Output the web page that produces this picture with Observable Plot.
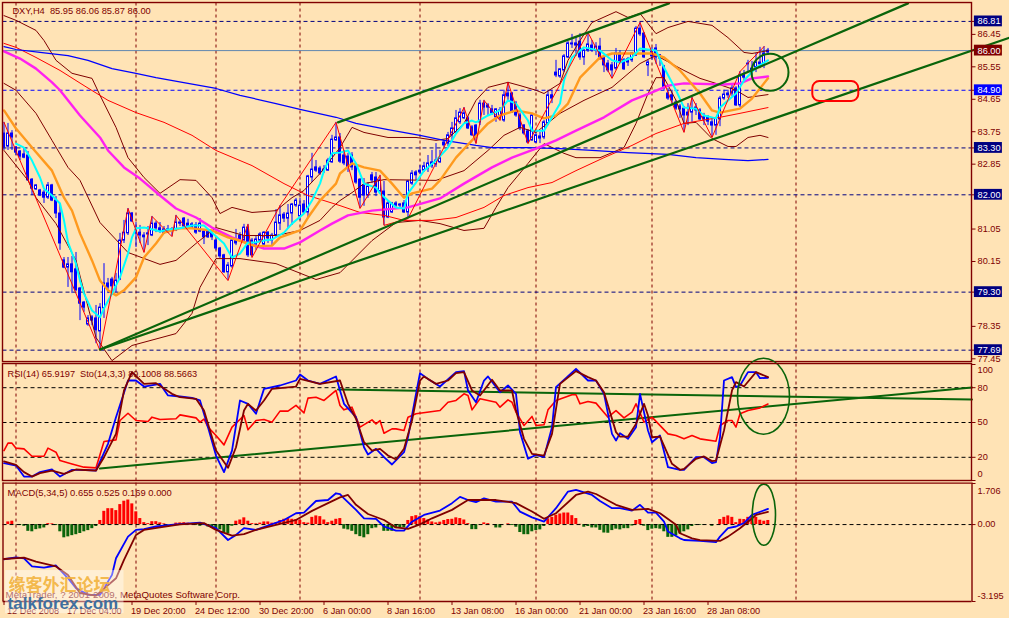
<!DOCTYPE html>
<html>
<head>
<meta charset="utf-8">
<script src="https://cdn.jsdelivr.net/npm/d3@7"></script>
<script src="https://cdn.jsdelivr.net/npm/@observablehq/plot@0.6"></script>
<style>
html,body{margin:0;padding:0;background:#FFE3B5;overflow:hidden;width:1009px;height:618px}
svg{display:block;overflow:visible}
</style>
</head>
<body>
<div id="chart"></div>
<script>
// ---------- candles: one value per H4 bar ----------
const opens=[83.70,83.34,83.70,83.31,83.20,83.12,83.09,82.42,82.15,82.12,82.06,81.92,82.26,81.84,81.48,80.18,79.98,80.07,79.93,79.40,79.01,78.40,78.60,78.57,78.21,78.85,79.54,79.65,79.46,79.65,80.73,80.93,81.48,81.01,80.95,80.87,80.93,80.87,81.20,81.07,81.04,81.04,81.04,81.01,81.23,81.34,81.20,81.09,81.15,80.98,80.98,80.98,80.93,80.73,80.51,80.32,79.85,80.01,80.73,80.87,80.73,81.09,80.73,80.62,80.73,80.62,80.95,80.73,80.87,81.20,81.45,81.34,81.48,81.70,81.40,81.73,81.51,82.48,82.76,82.73,82.70,82.67,82.90,83.51,83.59,83.09,83.06,83.09,82.79,82.42,82.26,81.98,82.54,82.48,82.09,82.09,81.37,81.51,81.76,81.73,81.76,81.51,82.31,82.62,82.67,82.67,82.73,82.79,82.84,82.90,83.45,83.42,83.65,83.73,84.01,84.12,84.12,83.87,83.92,84.01,84.53,84.48,84.37,84.15,84.12,84.06,84.81,84.81,84.53,84.20,83.92,83.76,83.51,83.45,83.56,83.59,83.98,84.76,85.39,85.28,85.45,85.81,86.17,86.14,86.25,85.81,86.00,86.14,86.00,86.11,85.81,85.64,85.59,85.50,85.92,85.73,85.76,85.73,85.86,86.61,86.47,85.59,85.98,86.06,85.87,85.56,84.81,84.76,84.56,84.45,84.39,84.28,84.28,84.34,84.34,84.15,84.15,84.01,83.92,84.09,84.67,84.76,84.81,84.95,84.48,85.34,85.62,85.50,85.53,85.62,85.64,85.95];
const highs=[84.01,83.98,83.78,83.34,83.23,83.28,83.20,82.45,82.28,82.15,82.12,82.34,82.29,81.95,81.76,80.26,80.26,80.29,80.40,79.43,79.04,78.65,78.65,78.93,78.98,80.09,79.68,79.71,79.82,80.93,81.29,81.62,81.51,81.23,81.15,80.95,81.12,81.40,81.26,81.23,81.12,81.15,81.09,81.43,81.29,81.37,81.32,81.23,81.23,81.34,81.01,81.01,80.95,80.76,80.54,80.35,80.12,80.79,81.04,80.95,81.18,81.18,80.79,80.84,80.95,80.98,80.98,80.93,81.59,81.70,81.51,81.73,81.76,81.90,81.90,81.84,82.54,83.15,82.95,82.79,82.81,83.01,83.65,84.01,83.70,83.23,83.15,83.17,82.84,82.45,82.45,82.34,82.62,82.62,82.54,82.37,81.81,81.79,81.81,81.76,81.84,82.40,82.67,82.67,82.81,82.90,83.09,83.23,83.42,83.23,83.51,83.73,84.01,84.34,84.39,84.42,84.17,83.92,83.95,84.62,84.62,84.53,84.48,84.39,84.42,84.90,85.12,84.84,84.59,84.26,83.95,83.81,84.26,83.78,83.73,84.06,84.90,84.90,85.73,85.50,85.89,86.25,86.45,86.39,86.47,86.03,86.50,86.28,86.22,86.34,85.84,85.73,85.67,86.06,86.00,85.78,85.81,85.95,86.67,86.78,86.50,85.73,86.08,86.17,85.89,85.59,84.95,84.90,84.62,84.51,84.45,84.53,84.70,84.53,84.39,84.26,84.20,84.12,84.15,84.73,84.90,84.90,85.03,85.00,85.42,85.45,85.73,85.70,85.92,86.09,86.11,86.06];
const lows=[83.23,83.23,83.23,83.09,82.95,83.00,82.37,81.98,82.12,81.95,81.76,81.87,81.81,81.34,80.46,79.95,79.43,79.26,79.32,78.51,78.74,78.35,78.37,77.87,77.68,78.57,79.26,79.21,79.29,79.62,80.65,80.87,81.23,80.54,80.65,80.40,80.59,80.84,80.95,80.93,80.90,80.93,80.84,80.98,81.12,81.09,81.07,81.04,80.90,80.95,80.62,80.79,80.73,80.46,80.23,79.82,79.62,79.96,80.59,80.68,80.65,80.26,80.26,80.46,80.68,80.57,80.65,80.57,80.82,81.01,81.23,81.07,81.15,81.65,81.29,81.48,81.37,82.34,82.62,82.54,82.59,82.65,82.87,83.48,82.87,82.81,82.62,82.67,82.29,81.62,81.68,81.90,82.31,81.95,82.06,81.15,81.34,81.48,81.65,81.62,81.48,81.34,82.26,82.40,82.56,82.62,82.62,82.73,82.76,82.87,83.31,83.34,83.51,83.70,83.95,84.09,83.81,83.62,83.42,83.92,84.20,84.20,84.20,84.01,84.06,84.01,84.62,84.26,84.15,83.78,83.65,83.42,83.48,83.42,83.42,83.53,83.92,84.53,85.25,85.23,85.39,85.78,86.06,85.84,85.73,85.59,85.95,85.95,85.86,85.73,85.39,85.39,85.23,85.45,85.67,85.45,85.56,85.67,85.84,86.39,85.78,85.28,85.73,85.62,85.56,84.90,84.62,84.48,84.34,84.12,83.73,83.92,84.01,84.20,84.06,83.92,83.92,83.59,83.65,83.89,84.62,84.67,84.73,84.45,84.42,85.17,85.39,85.23,85.39,85.50,85.50,85.87];
const closes=[83.31,83.70,83.59,83.17,83.06,83.03,82.40,82.17,82.26,81.98,81.92,82.26,81.84,81.48,80.65,79.98,80.07,79.85,79.35,78.98,78.87,78.57,78.51,78.24,78.87,79.54,79.43,79.46,79.62,80.73,80.95,81.48,81.26,80.93,80.87,80.82,80.90,81.20,81.07,80.98,80.95,80.98,81.01,81.23,81.20,81.12,81.09,81.18,80.95,81.20,80.82,80.82,80.82,80.51,80.29,79.85,80.04,80.73,80.65,80.73,81.09,80.32,80.32,80.76,80.90,80.95,80.79,80.87,81.23,81.43,81.34,81.48,81.73,81.84,81.70,81.51,82.51,82.70,82.67,82.59,82.65,82.95,83.53,83.59,82.92,82.87,82.76,82.76,82.34,81.92,81.98,82.23,82.40,82.06,82.40,81.37,81.76,81.76,81.70,81.70,81.51,82.37,82.59,82.54,82.62,82.79,82.87,82.90,82.95,83.01,83.37,83.65,83.84,84.12,84.28,84.26,83.84,83.65,83.59,84.53,84.42,84.42,84.26,84.37,84.34,84.76,84.73,84.28,84.20,83.84,83.70,83.45,84.20,83.65,83.62,84.01,84.76,84.67,85.31,85.48,85.84,86.20,86.20,86.20,85.81,86.00,86.17,86.00,86.11,85.81,85.59,85.45,85.45,85.92,85.70,85.48,85.67,85.92,86.61,86.45,85.81,85.67,85.84,85.81,85.78,84.95,84.67,84.62,84.39,84.37,84.20,84.20,84.39,84.42,84.09,84.09,84.03,83.92,84.12,84.67,84.78,84.81,84.95,84.48,85.31,85.25,85.64,85.45,85.67,85.67,85.92,86.00];

// ---------- price overlays: [bar, price] ----------
const cyanMA=[[3,83.42],[5,83.31],[7,82.95],[9,82.48],[10,82.17],[12,81.98],[14,81.76],[15,81.29],[16,80.68],[18,80.09],[19,79.62],[20,79.26],[22,78.79],[24,78.60],[25,78.85],[27,79.26],[29,79.71],[31,80.37],[32,80.82],[33,81.07],[35,81.09],[36,81.07],[39,80.98],[41,81.04],[44,81.07],[47,81.15],[50,81.15],[52,80.95],[55,80.65],[57,80.26],[59,80.37],[61,80.68],[63,80.68],[65,80.73],[67,80.76],[70,80.95],[72,81.20],[75,81.48],[77,81.84],[79,82.31],[80,82.67],[82,83.15],[84,83.17],[86,83.23],[88,82.87],[90,82.31],[93,82.20],[94,82.04],[96,81.84],[98,81.65],[100,81.62],[101,82.04],[103,82.34],[105,82.67],[108,82.95],[111,83.31],[113,83.70],[115,83.98],[117,84.06],[118,84.01],[121,84.20],[124,84.34],[126,84.62],[128,84.53],[131,84.06],[132,83.78],[135,83.78],[137,84.15],[139,84.53],[140,85.17],[142,85.81],[145,86.09],[149,86.00],[152,85.73],[154,85.67],[157,85.81],[159,86.06],[163,86.00],[165,85.53],[168,84.90],[170,84.42],[173,84.39],[175,84.20],[178,84.12],[179,84.42],[183,84.81],[185,85.17],[188,85.53],[191,85.73]];
const orangeMA=[[0,84.34],[3,83.84],[7,83.31],[12,82.67],[15,81.92],[17,81.56],[19,80.93],[22,80.18],[24,79.62],[26,79.35],[28,79.21],[30,79.35],[33,79.71],[35,80.26],[38,80.65],[40,80.95],[44,81.07],[47,81.07],[52,81.01],[56,80.82],[58,80.76],[63,80.57],[67,80.59],[69,80.82],[74,81.01],[76,81.37],[79,81.84],[83,82.31],[84,82.59],[87,82.87],[90,82.76],[94,82.67],[97,82.31],[100,81.92],[102,82.04],[107,82.17],[109,82.40],[113,83.03],[117,83.51],[121,83.98],[124,84.20],[128,84.34],[132,84.26],[135,84.12],[138,84.20],[141,84.53],[144,85.25],[149,85.81],[152,85.92],[162,85.92],[165,85.81],[169,85.45],[174,84.81],[177,84.34],[179,84.28],[184,84.39],[187,84.67],[191,85.23]];
const magentaMA=[[0,85.98],[4,85.78],[8,85.50],[12,85.12],[14,84.90],[19,84.20],[24,83.59],[26,83.23],[30,82.76],[34,82.45],[39,81.98],[43,81.62],[48,81.37],[52,81.09],[57,80.82],[61,80.65],[65,80.51],[70,80.51],[74,80.68],[79,81.01],[82,81.20],[86,81.43],[92,81.56],[101,81.65],[109,81.90],[115,82.31],[122,82.76],[127,83.03],[133,83.28],[138,83.51],[143,83.78],[150,84.15],[157,84.62],[162,84.84],[166,85.03],[170,85.09],[180,85.06],[184,85.09],[187,85.23],[191,85.28]];
const blueMA=[[0,86.11],[3,86.03],[9,85.95],[16,85.86],[21,85.73],[27,85.50],[33,85.37],[38,85.25],[46,85.09],[53,84.95],[59,84.76],[68,84.53],[74,84.37],[83,84.15],[88,83.98],[96,83.81],[104,83.65],[110,83.51],[118,83.37],[122,83.31],[131,83.31],[139,83.28],[147,83.23],[156,83.17],[166,83.12],[173,83.03],[180,82.98],[186,82.95],[191,82.98]];
const redMA=[[0,86.20],[3,86.09],[8,85.81],[14,85.45],[20,85.03],[26,84.62],[33,84.28],[40,84.01],[47,83.65],[53,83.23],[62,82.81],[70,82.31],[76,81.98],[84,81.70],[89,81.51],[95,81.43],[100,81.29],[107,81.29],[113,81.37],[120,81.65],[125,81.98],[131,82.20],[137,82.34],[143,82.67],[150,83.03],[157,83.37],[163,83.70],[170,83.98],[179,84.15],[184,84.26],[191,84.42]];
const zigzag=[[0,84.01],[24,77.68],[31,81.62],[35,80.40],[37,81.40],[42,80.84],[43,81.43],[56,79.62],[61,81.18],[62,80.26],[69,81.70],[83,84.01],[89,81.62],[94,82.54],[95,81.15],[101,81.34],[115,84.42],[118,83.42],[120,84.62],[124,84.06],[126,85.12],[131,83.42],[146,86.50],[152,85.23],[159,86.78],[170,83.73],[172,84.70],[177,83.59],[184,85.42],[190,86.11]];
const bandUpper=[[0,86.97],[3,86.84],[8,86.56],[10,86.28],[13,85.73],[17,85.37],[22,85.23],[24,84.76],[28,83.87],[31,83.03],[35,82.48],[39,82.04],[44,82.42],[48,82.40],[52,81.92],[54,81.48],[57,81.65],[62,81.51],[68,81.56],[72,81.92],[75,82.12],[79,82.59],[84,83.31],[87,83.87],[90,83.73],[96,83.59],[103,83.59],[108,83.51],[111,83.56],[115,83.98],[118,84.62],[121,84.98],[126,85.12],[129,85.03],[133,84.90],[135,84.81],[139,85.09],[141,85.73],[144,86.28],[147,86.78],[153,87.08],[156,86.92],[159,87.03],[161,86.75],[163,86.47],[166,86.64],[171,86.81],[177,86.70],[181,86.36],[185,85.95],[187,85.92],[191,86.00]];
const bandMiddle=[[0,85.09],[3,84.90],[8,84.26],[12,83.51],[16,82.76],[19,82.40],[24,81.23],[31,80.40],[39,80.07],[43,80.18],[48,80.65],[53,81.09],[60,80.87],[68,80.87],[74,81.01],[79,81.29],[82,81.65],[84,81.84],[87,82.06],[90,82.31],[95,82.42],[108,82.40],[115,82.67],[121,83.23],[125,83.65],[129,83.87],[133,83.73],[139,84.26],[145,84.62],[152,84.98],[159,85.64],[163,85.87],[170,85.45],[174,85.23],[178,85.09],[183,84.90],[186,84.70],[191,84.78]];
const bandLower=[[0,83.23],[6,82.40],[8,81.92],[13,81.20],[18,80.18],[23,78.04],[27,77.40],[32,77.82],[43,78.15],[47,78.71],[49,79.43],[53,80.23],[59,80.23],[68,80.09],[78,79.65],[84,79.84],[92,80.73],[98,81.23],[104,81.29],[109,81.20],[115,81.01],[120,81.07],[123,81.65],[126,82.20],[131,82.87],[135,83.42],[140,83.15],[143,83.03],[149,83.03],[155,83.31],[158,83.98],[161,84.81],[163,85.25],[165,85.25],[168,84.62],[170,83.98],[173,84.01],[177,83.56],[181,83.34],[183,83.34],[186,83.59],[189,83.65],[191,83.59]];
const priceTrend1=[[83.5,84.01],[166.25,87.31]];
const priceTrend2=[[24,77.71],[226,87.31]];
const priceTrend3=[[24,77.71],[251.4,86.36]];

// ---------- RSI / Stochastic: [bar, value] ----------
const stoMain=[[0,14.9],[3,12.9],[5,3.4],[7,3.4],[9,7.2],[12,9.5],[14,3.4],[17,9.2],[19,9.2],[23,8.6],[26,31.6],[28,54.6],[31,86.2],[33,86.2],[35,81],[39,83.3],[41,73.3],[44,72.4],[47,71.3],[49,69],[51,46],[53,21.5],[55,7.2],[57,25.8],[59,69],[61,66.1],[63,57.5],[65,79],[69,81.9],[73,86.2],[74,91.4],[76,86.2],[79,83.3],[83,89.7],[84,77.6],[85,66.1],[88,54.6],[90,28.7],[91,22.4],[93,27.3],[95,20.1],[97,13.8],[100,24.4],[101,37.3],[103,74.7],[104,92.5],[106,87.6],[109,81],[113,93.4],[115,94.3],[116,77.6],[118,67.5],[120,86.2],[121,89.7],[124,76.1],[126,81.9],[128,74.7],[129,41.7],[131,18.7],[133,22.1],[135,20.1],[137,46],[138,80.5],[143,96.3],[146,86.2],[148,86.2],[150,74.7],[152,40.2],[153,34.5],[154,40.8],[156,35.9],[158,46],[159,74.7],[161,43.1],[162,33],[164,38.8],[166,11.5],[169,9.2],[170,9.2],[173,20.1],[175,20.1],[177,15],[178,15.8],[179,37.4],[180,86.2],[182,89.1],[183,80.5],[184,81.9],[186,93.4],[188,93.4],[189,88.2],[191,88.57]];
const stoSignal=[[0,16.4],[3,13.5],[5,7.2],[7,3.4],[9,6.3],[12,8.6],[15,5.7],[18,9.5],[23,8.6],[25,20.1],[28,40.2],[30,77.6],[32,93.4],[35,83.3],[38,83.9],[42,74.7],[44,71.8],[48,70.4],[50,60.3],[53,25.8],[56,10.9],[58,28.7],[60,60.3],[61,66.1],[63,60.3],[65,69],[67,79],[73,81],[74,87.6],[79,83.3],[84,86.2],[86,66.1],[88,53.2],[90,33],[92,25.8],[94,27.3],[96,21.5],[98,18.1],[100,27.3],[102,51.7],[104,86.2],[105,89.7],[108,83.3],[111,86.2],[113,92.5],[115,93.4],[117,77.6],[119,73.3],[122,86.8],[124,77.6],[127,77.6],[128,60.3],[130,35.9],[132,23],[135,21.5],[137,40.2],[139,83.3],[143,94.3],[146,89.1],[148,86.2],[150,76.1],[153,41.7],[154,37.9],[156,37.9],[158,48.8],[160,66.1],[161,56],[162,37.3],[164,37.9],[167,14.4],[169,9.2],[170,10],[173,18.7],[175,20.7],[177,16.7],[178,17.2],[180,43.1],[182,77.6],[183,84.8],[185,81],[188,93.4],[191,89.1]];
const rsiLine=[[0,25.8],[1,32.2],[2,32.2],[3,27.9],[5,27.3],[7,20.9],[10,20.9],[11,27.9],[13,24.4],[14,17.2],[17,14.3],[20,11.5],[23,10.9],[25,33.6],[28,35],[29,51.7],[31,58],[33,51.7],[36,50.9],[37,54.6],[39,52.6],[43,53.2],[44,56.6],[48,54],[49,50.3],[50,53],[51,46],[53,38.8],[55,30.7],[57,46],[60,56],[61,43.7],[63,51.7],[65,52.6],[67,50.3],[69,59.8],[71,59.8],[73,64.7],[75,58.3],[76,71],[78,71.8],[80,69],[83,77.6],[84,64.7],[85,60.9],[87,63.2],[89,46],[92,52.3],[93,48.8],[94,51.7],[95,40.8],[97,44.5],[98,44.5],[100,43.1],[101,54.6],[103,57.5],[109,60.3],[111,67.5],[113,69],[115,74.7],[116,73.3],[117,60.9],[119,70.4],[123,67.5],[124,63.2],[126,69.5],[127,67.5],[128,58.9],[130,47.4],[132,55.2],[133,47.4],[135,48],[136,60.9],[138,69],[142,73.9],[143,73.9],[144,66.1],[146,68.1],[148,66.7],[151,54.6],[153,60.3],[155,54],[157,58.9],[158,66.1],[160,50.3],[162,54.6],[166,40.2],[168,38.8],[170,35.9],[172,38.8],[174,35.9],[178,33.9],[179,47.4],[181,51.7],[182,51.7],[183,46],[184,57.5],[186,60.3],[189,62.6],[191,65.92]];
const rsiTrend1=[[24,10.3],[242,80.2]];
const rsiTrend2=[[83.5,78.4],[242,69.8]];

// ---------- MACD: [bar, value] ----------
const macdMain=[[0,-1.44],[3,-1.36],[5,-1.40],[7,-1.74],[10,-1.79],[13,-1.70],[16,-2.23],[18,-2.64],[21,-2.92],[24,-2.92],[27,-2.09],[28,-1.40],[31,-0.50],[33,-0.22],[35,-0.19],[38,-0.08],[43,0.01],[49,0.08],[53,-0.15],[56,-0.64],[58,-0.43],[60,-0.15],[63,-0.22],[66,-0.04],[70,0.19],[73,0.47],[75,0.50],[78,0.98],[81,1.02],[83,1.30],[84,1.26],[85,1.09],[88,0.61],[90,0.26],[93,0.24],[95,-0.08],[98,-0.25],[100,-0.25],[102,0.12],[105,0.40],[109,0.58],[112,0.89],[114,1.15],[116,1.02],[118,0.93],[120,1.09],[123,0.95],[127,0.95],[129,0.54],[132,0.30],[135,0.12],[138,0.68],[141,1.37],[143,1.44],[147,1.23],[149,0.98],[152,0.68],[154,0.68],[157,0.58],[159,0.82],[161,0.50],[163,0.50],[165,0.12],[166,-0.29],[169,-0.57],[170,-0.64],[174,-0.68],[178,-0.73],[179,-0.50],[181,-0.15],[183,-0.08],[185,0.06],[187,0.40],[191,0.655]];
const macdSignal=[[0,-1.43],[5,-1.37],[8,-1.54],[13,-1.74],[16,-2.09],[19,-2.85],[23,-2.95],[28,-2.23],[30,-1.47],[33,-0.43],[35,-0.22],[39,-0.12],[44,0.01],[50,0.06],[53,-0.22],[57,-0.46],[60,-0.40],[63,-0.22],[68,-0.01],[73,0.19],[77,0.57],[81,0.89],[84,1.13],[86,1.23],[88,0.82],[91,0.44],[95,0.19],[98,-0.12],[101,-0.18],[104,0.01],[107,0.26],[112,0.61],[116,1.02],[123,1.02],[128,0.89],[132,0.54],[135,0.24],[138,0.47],[143,1.23],[146,1.37],[148,1.27],[153,0.82],[157,0.61],[161,0.65],[164,0.47],[168,-0.01],[169,-0.36],[172,-0.57],[174,-0.65],[179,-0.68],[181,-0.50],[184,-0.15],[186,0.12],[188,0.40],[191,0.525]];
const macdHist=[0,0.11,0.14,-0.01,-0.04,-0.07,-0.28,-0.30,-0.21,-0.18,-0.14,0.04,0.03,-0.04,-0.30,-0.55,-0.51,-0.46,-0.42,-0.37,-0.30,-0.25,-0.17,-0.08,0.17,0.55,0.66,0.66,0.58,0.83,0.97,1.02,0.86,0.53,0.25,0.08,0.04,0.12,0.12,0.07,0.03,-0.01,-0.01,0.06,0.07,0.08,0.06,0.03,-0.04,-0.07,-0.04,-0.10,-0.14,-0.19,-0.22,-0.35,-0.39,-0.07,0.14,0.19,0.28,0.14,0.04,0.03,0.06,0.11,0.11,0.06,0.07,0.17,0.22,0.25,0.22,0.21,0.17,0.08,0.06,0.30,0.36,0.33,0.19,0.08,0.14,0.22,0.25,-0.19,-0.22,-0.28,-0.42,-0.50,-0.55,-0.42,-0.17,-0.14,-0.04,-0.28,-0.28,-0.28,-0.17,-0.14,-0.14,0.17,0.33,0.37,0.33,0.25,0.19,0.11,0.07,0.10,0.17,0.21,0.22,0.28,0.25,0.19,0.04,-0.21,-0.21,0,0.07,0.04,0,-0.14,-0.14,0,0.03,-0.04,-0.11,-0.33,-0.42,-0.42,-0.30,-0.25,-0.22,-0.08,0.24,0.30,0.39,0.44,0.48,0.48,0.37,0.25,0.01,-0.11,-0.08,-0.14,-0.14,-0.24,-0.35,-0.36,-0.25,-0.19,-0.22,-0.17,-0.17,-0.06,0.17,0.21,-0.07,-0.25,-0.19,-0.17,-0.19,-0.30,-0.53,-0.53,-0.47,-0.39,-0.30,-0.22,-0.08,-0.03,-0.03,-0.03,0,-0.07,0,0.21,0.30,0.36,0.30,0.08,0.22,0.21,0.30,0.37,0.30,0.18,0.14,0.17];

// ---------- levels, ticks and labels ----------
const levelsNavy=[86.81,83.30,82.00,79.30,77.69];
const levelBlue=84.90, lastPrice=86.00;
const priceTicks=[86.45,85.55,84.65,83.75,82.85,81.05,80.15,78.35,77.45];
const boxTicks=[86.81,83.30,82.00,79.30,77.69];
const separators=[3,33,53,74,104,133,162,198];
const tickBars=[0,16,32,48,64,80,96,112,128,144,160,176];
const labelBars=[1,16,32,48,64,80,96,112,128,144,160,176];
const tickLabels=["12 Dec 2008","17 Dec 04:00","19 Dec 20:00","24 Dec 12:00","30 Dec 20:00","6 Jan 00:00","8 Jan 16:00","13 Jan 08:00","16 Jan 00:00","21 Jan 00:00","23 Jan 16:00","28 Jan 08:00"];
const rsiLevels=[80,50,20], rsiTicks=[100,80,50,20,0], rsiLabelAt=[94.8,80,50,20,5.6], rsiLabels=["100","80","50","20","0"];
const macdTicks=[1.706,0,-3.195], macdLabelAt=[1.41,0.03,-2.95], macdLabels=["1.706","0.00","-3.195"];

// ---------- styling ----------
const FONT='"Liberation Sans",sans-serif', MAROON="#800000", GREEN="#0A640A", BLUE="#0000FF", NAVY="#000080";
const xScale={domain:[0,250],range:[3.5,1003.5]};
const xs=p=>p[0], ys=p=>p[1];
const idx=opens.map((_,i)=>i);
const L=(d,stroke,strokeWidth)=>Plot.line(d,{x:xs,y:ys,stroke,strokeWidth,strokeLinejoin:"round"});
const base=h=>({width:1009,height:h,margin:0,x:xScale,axis:null,style:{background:"transparent",overflow:"visible",fontFamily:FONT,fontSize:"9.2px"}});
const T=(d,o)=>Plot.text(d,{fontSize:9.2,fill:MAROON,textAnchor:"start",...o});

// ---------- price panel ----------
const main=Plot.plot({...base(363),y:{domain:[87.39,77.32],range:[0,363]},marks:[
  Plot.ruleX(separators,{y1:87.32,y2:77.36,stroke:MAROON,strokeDasharray:"3,3"}),
  Plot.ruleY(levelsNavy,{x1:-0.25,x2:242,stroke:NAVY,strokeDasharray:"4,3"}),
  Plot.ruleY([levelBlue],{x1:-0.25,x2:242,stroke:BLUE,strokeDasharray:"4,3"}),
  Plot.ruleY([lastPrice],{x1:-0.25,x2:242,stroke:"#5F86B0"}),
  T(["DXY,H4  85.95 86.06 85.87 86.00"],{x:2.1,y:87.085,fontSize:9.3}),
  Plot.ruleX(idx,{x:i=>i,y1:i=>lows[i],y2:i=>highs[i],stroke:BLUE,strokeWidth:1}),
  Plot.rect(idx,{x1:i=>i-0.25,x2:i=>i+0.25,y1:i=>opens[i],y2:i=>closes[i],fill:i=>closes[i]>=opens[i]?"#FFFFFF":BLUE,stroke:BLUE,strokeWidth:1}),
  L(bandUpper,MAROON,1),L(bandMiddle,MAROON,1),L(bandLower,MAROON,1),
  L(redMA,"#FF0000",1),
  L(blueMA,BLUE,1.2),
  L(magentaMA,"#FF20F0",2.4),
  L(orangeMA,"#FF9A1E",2.4),
  L(cyanMA,"#00FFFF",2),
  L(zigzag,"#FF0000",1),
  L(priceTrend1,GREEN,2.2),L(priceTrend2,GREEN,2.2),L(priceTrend3,GREEN,2.2),
  Plot.rect([0],{x1:187,x2:196.25,y1:85.90,y2:84.87,rx:18.5,ry:19,fill:"none",stroke:GREEN,strokeWidth:2}),
  Plot.rect([0],{x1:202.2,x2:213.7,y1:85.14,y2:84.59,rx:7,ry:7,fill:"none",stroke:"#FF0000",strokeWidth:2}),
  Plot.rect([0],{x1:-0.25,x2:242,y1:87.32,y2:77.36,fill:"none",stroke:MAROON,strokeWidth:1.4}),
  Plot.ruleY([...priceTicks,...boxTicks,lastPrice,levelBlue],{x1:242,x2:243,stroke:MAROON}),
  Plot.rect(boxTicks,{x1:242.6,x2:249.6,y1:p=>p+0.15,y2:p=>p-0.15,fill:NAVY}),
  Plot.rect([levelBlue],{x1:242.6,x2:249.6,y1:p=>p+0.15,y2:p=>p-0.15,fill:BLUE}),
  Plot.rect([lastPrice],{x1:242.6,x2:249.6,y1:p=>p+0.15,y2:p=>p-0.15,fill:MAROON}),
  T(priceTicks,{x:243.4,y:p=>p,text:p=>p.toFixed(2)}),
  T([...boxTicks,levelBlue,lastPrice],{x:243.4,y:p=>p,text:p=>p.toFixed(2),fill:"#FFFFFF"})
]});

// ---------- RSI / stochastic panel ----------
const rsi=Plot.plot({...base(119),y:{domain:[100,0],range:[1,117]},marks:[
  Plot.ruleX(separators,{y1:100.4,y2:-0.43,stroke:MAROON,strokeDasharray:"3,3"}),
  Plot.ruleY(rsiLevels,{x1:-0.25,x2:242,stroke:"#000",strokeDasharray:"4,3"}),
  T(["RSI(14) 65.9197  Sto(14,3,3) 89.1008 88.5663"],{x:0.9,y:92.2,fontSize:9.2}),
  L(rsiTrend1,GREEN,2),L(rsiTrend2,GREEN,2),
  L(rsiLine,"#FF0000",1.6),
  L(stoMain,BLUE,1.8),
  L(stoSignal,MAROON,1.8),
  Plot.rect([0],{x1:183.5,x2:196.5,y1:105,y2:39.5,rx:26,ry:38,fill:"none",stroke:GREEN,strokeWidth:1.6}),
  Plot.rect([0],{x1:-0.25,x2:242,y1:100.4,y2:-0.43,fill:"none",stroke:MAROON,strokeWidth:1.4}),
  Plot.ruleY(rsiTicks,{x1:242,x2:243,stroke:MAROON}),
  T(rsiTicks.map((_,i)=>i),{x:243.4,y:i=>rsiLabelAt[i],text:i=>rsiLabels[i]})
]});

// ---------- MACD panel ----------
const macd=Plot.plot({...base(136),y:{domain:[1.706,-3.195],range:[1,119]},marks:[
  Plot.ruleX(separators,{y1:1.723,y2:-3.195,stroke:MAROON,strokeDasharray:"3,3"}),
  T(["MACD(5,34,5) 0.655 0.525 0.169 0.000"],{x:0.9,y:1.329,fontSize:9.4}),
  Plot.rect(macdHist.map((v,i)=>i),{x1:i=>i-0.3,x2:i=>i+0.45,y1:0,y2:i=>macdHist[i],fill:i=>macdHist[i]>=0?"#FF0000":"#0A640A"}),
  Plot.ruleY([0],{x1:-0.25,x2:242,stroke:"#000",strokeDasharray:"4,3"}),
  L(macdMain,BLUE,1.8),
  L(macdSignal,MAROON,1.8),
  Plot.rect([0],{x1:187.2,x2:193,y1:1.66,y2:-0.88,rx:12,ry:31,fill:"none",stroke:GREEN,strokeWidth:1.6}),
  T(["MetaTrader, ? 2001-2009, MetaQuotes Software Corp."],{x:0.4,y:-2.907,fontSize:9.7}),
  Plot.ruleX([-0.25],{y1:1.723,y2:-3.195,stroke:MAROON,strokeWidth:1.4}),
  Plot.ruleX([242],{y1:1.723,y2:-3.195,stroke:MAROON,strokeWidth:1.4}),
  Plot.ruleY([1.723,-3.195],{x1:-0.25,x2:242,stroke:MAROON,strokeWidth:1.4}),
  Plot.ruleY(macdTicks,{x1:242,x2:243,stroke:MAROON}),
  T(macdTicks.map((_,i)=>i),{x:243.4,y:i=>macdLabelAt[i],text:i=>macdLabels[i]}),
  Plot.ruleX(tickBars,{y1:-3.195,y2:-3.36,stroke:MAROON}),
  T(labelBars.map((_,i)=>i),{x:i=>labelBars[i],y:-3.571,text:i=>tickLabels[i],dx:-1}),
  Plot.rect([0],{x1:0.4,x2:30,y1:-1.91,y2:-3.70,fill:"#FFFFFF",fillOpacity:0.42}),
  Plot.text(["缘客外汇论坛"],{x:1.1,y:-2.53,textAnchor:"start",fontFamily:'"Noto Sans CJK SC"',fontWeight:700,fontSize:17,fill:"#F2B23A",fillOpacity:0.9,style:"letter-spacing:2.2px"}),
  Plot.text(["talkforex.com"],{x:0.9,y:-3.28,textAnchor:"start",fontFamily:'"Liberation Sans"',fontWeight:700,fontSize:17,fill:"#3F6F9F"})
]});

const host=document.getElementById("chart");
host.append(main,rsi,macd);
</script>
</body>
</html>
